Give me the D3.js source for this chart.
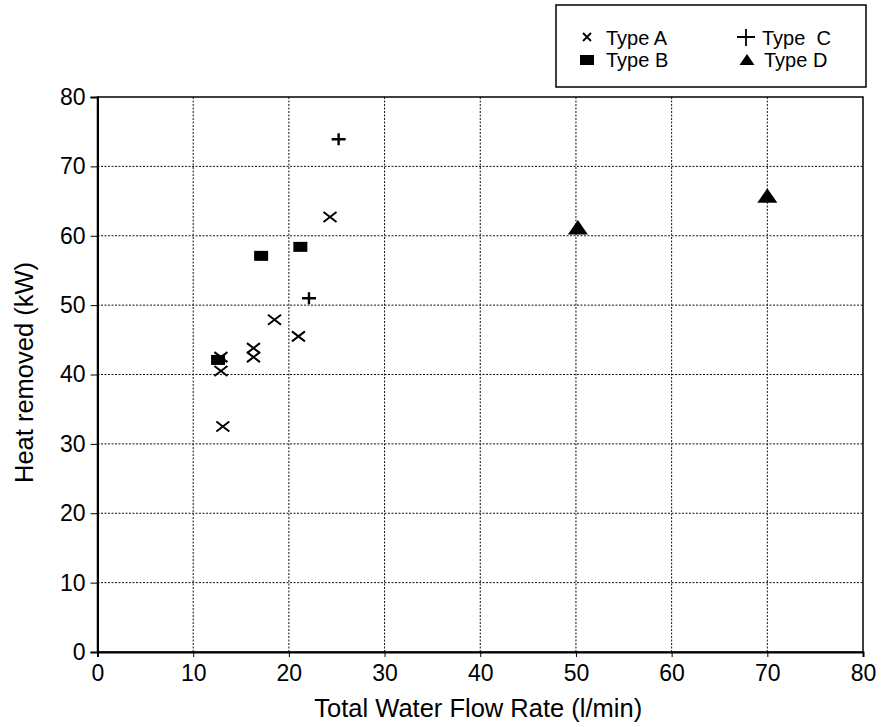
<!DOCTYPE html>
<html>
<head>
<meta charset="utf-8">
<script src="https://cdn.jsdelivr.net/npm/d3@7"></script>
<style>
	body { margin: 0; background: #fff; }
	svg { font-family: "Liberation Sans", Arial, sans-serif; }
</style>
</head>
<body>
<svg></svg>
<script>
// values
var typeAFlow = [12.9, 12.9, 13.1, 16.3, 16.3, 18.5, 21.0, 24.3];
var typeAHeat = [42.5, 40.5, 32.5, 43.8, 42.5, 47.9, 45.5, 62.7];
var typeBFlow = [12.6, 17.1, 21.2];
var typeBHeat = [42.1, 57.1, 58.4];
var typeCFlow = [22.1, 25.2];
var typeCHeat = [51.0, 73.9];
var typeDFlow = [50.2, 70.0];
var typeDHeat = [61.1, 65.7];
var xTicks = [0, 10, 20, 30, 40, 50, 60, 70, 80];
var yTicks = [0, 10, 20, 30, 40, 50, 60, 70, 80];

var margin = {top: 97, right: 20, bottom: 75, left: 97.5},
	width = 883 - margin.left - margin.right,
	height = 727 - margin.top - margin.bottom;

var svg = d3.select("svg")
	.attr("width", 883)
	.attr("height", 727)
	.append("g")
	.attr("transform", "translate(" + margin.left + "," + margin.top + ")");

var scaleX = d3.scaleLinear().domain([0, 80]).range([0, width]);
var scaleY = d3.scaleLinear().domain([0, 80]).range([height, 0]);

// dotted grid
svg.selectAll(".vgrid")
	.data(xTicks.slice(1, -1))
	.enter().append("line")
	.attr("x1", function(d) { return scaleX(d); })
	.attr("x2", function(d) { return scaleX(d); })
	.attr("y1", 0).attr("y2", height)
	.attr("stroke", "#111").attr("stroke-width", 1)
	.attr("stroke-dasharray", "2,1.5");

svg.selectAll(".hgrid")
	.data(yTicks.slice(1, -1))
	.enter().append("line")
	.attr("y1", function(d) { return scaleY(d); })
	.attr("y2", function(d) { return scaleY(d); })
	.attr("x1", 0).attr("x2", width)
	.attr("stroke", "#111").attr("stroke-width", 1)
	.attr("stroke-dasharray", "2,1.5");

// frame
svg.append("rect")
	.attr("width", width).attr("height", height)
	.attr("fill", "none").attr("stroke", "#000").attr("stroke-width", 1.5);

// axes
var xAxis = svg.append("g")
	.attr("transform", "translate(0," + height + ")")
	.call(d3.axisBottom(scaleX).tickValues(xTicks).tickSize(5).tickPadding(8));
var yAxis = svg.append("g")
	.call(d3.axisLeft(scaleY).tickValues(yTicks).tickSize(7).tickPadding(5));

[xAxis, yAxis].forEach(function(a) {
	a.select(".domain").attr("stroke-width", 2);
	a.selectAll("line").attr("stroke", "#000");
	a.selectAll("text")
		.attr("fill", "#000")
		.style("font-size", "23px")
		.style("font-family", "Liberation Sans, Arial, sans-serif");
});

// axis titles
svg.append("text")
	.attr("x", scaleX(40) - 2)
	.attr("y", height + 65)
	.style("text-anchor", "middle")
	.style("font-size", "25.5px")
	.text("Total Water Flow Rate (l/min)");

svg.append("text")
	.attr("transform", "rotate(-90)")
	.attr("x", -height / 2 + 2)
	.attr("y", -64.5)
	.style("text-anchor", "middle")
	.style("font-size", "25.5px")
	.text("Heat removed (kW)");

// markers
var crossPath = "M-6.5,-5L6.5,5M-6.5,5L6.5,-5";
var plusPath = "M-7,0L7,0M0,-6L0,6";
var triPath = "M0,-8L10,6.5L-10,6.5Z";

svg.selectAll(".typeA")
	.data(d3.range(typeAFlow.length))
	.enter().append("path")
	.attr("d", crossPath)
	.attr("transform", function(i) {
		return "translate(" + scaleX(typeAFlow[i]) + "," + scaleY(typeAHeat[i]) + ")";
	})
	.attr("stroke", "#000").attr("stroke-width", 2).attr("fill", "none");

svg.selectAll(".typeB")
	.data(d3.range(typeBFlow.length))
	.enter().append("rect")
	.attr("x", function(i) { return scaleX(typeBFlow[i]) - 7; })
	.attr("y", function(i) { return scaleY(typeBHeat[i]) - 5; })
	.attr("width", 14).attr("height", 10)
	.attr("fill", "#000");

svg.selectAll(".typeC")
	.data(d3.range(typeCFlow.length))
	.enter().append("path")
	.attr("d", plusPath)
	.attr("transform", function(i) {
		return "translate(" + scaleX(typeCFlow[i]) + "," + scaleY(typeCHeat[i]) + ")";
	})
	.attr("stroke", "#000").attr("stroke-width", 2.4).attr("fill", "none");

svg.selectAll(".typeD")
	.data(d3.range(typeDFlow.length))
	.enter().append("path")
	.attr("d", triPath)
	.attr("transform", function(i) {
		return "translate(" + scaleX(typeDFlow[i]) + "," + scaleY(typeDHeat[i]) + ")";
	})
	.attr("fill", "#000");

// legend
var legend = d3.select("svg").append("g");
legend.append("rect")
	.attr("x", 556).attr("y", 5)
	.attr("width", 310).attr("height", 82)
	.attr("fill", "#fff").attr("stroke", "#000").attr("stroke-width", 1.5);

legend.append("path").attr("d", "M-4,-4L4,4M-4,4L4,-4")
	.attr("transform", "translate(587,37)")
	.attr("stroke", "#000").attr("stroke-width", 1.8);
legend.append("rect").attr("x", 580).attr("y", 55).attr("width", 14).attr("height", 10).attr("fill", "#000");
legend.append("path").attr("d", "M-9,0L9,0M0,-8L0,9")
	.attr("transform", "translate(746,37)")
	.attr("stroke", "#000").attr("stroke-width", 1.8);
legend.append("path").attr("d", "M0,-6L7.5,5L-7.5,5Z")
	.attr("transform", "translate(747,60)")
	.attr("fill", "#000");

var legendText = [["Type A", 606, 45], ["Type B", 606, 67], ["Type  C", 762, 45], ["Type D", 764, 67]];
legend.selectAll(".lt")
	.data(legendText)
	.enter().append("text")
	.attr("x", function(d) { return d[1]; })
	.attr("y", function(d) { return d[2]; })
	.style("font-size", "20px")
	.style("white-space", "pre")
	.attr("xml:space", "preserve")
	.text(function(d) { return d[0]; });
</script>
</body>
</html>
